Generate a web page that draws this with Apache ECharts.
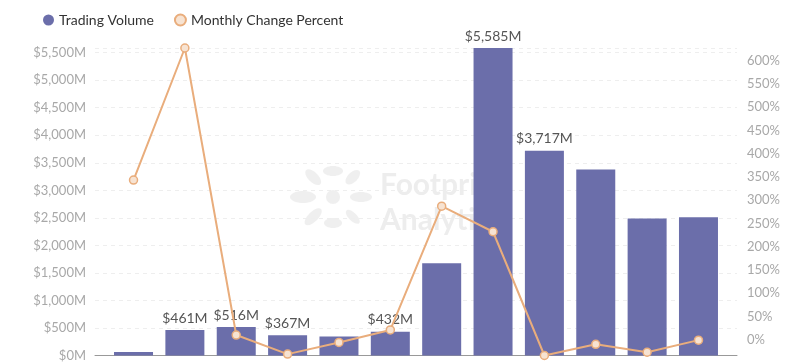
<!DOCTYPE html>
<html>
<head>
<meta charset="utf-8">
<script src="https://cdn.jsdelivr.net/npm/echarts@6/dist/echarts.min.js"></script>
<style>html,body{margin:0;padding:0;background:#fff}#c{width:800px;height:362px}</style>
</head>
<body>
<div id="c"></div>
<script>
// ---- data ----
var monthIndex = [0, 1, 2, 3, 4, 5, 6, 7, 8, 9, 10, 11];
var tradingVolume = [64, 461, 516, 367, 345, 432, 1675, 5585, 3717, 3380, 2490, 2510];
var volumeLabelShown = [false, true, true, true, false, true, false, true, true, false, false, false];
var monthlyChange = [343, 627, 10, -31, -6, 21, 287, 232, -34, -10, -27, -1];
var seriesNames = ['Trading Volume', 'Monthly Change Percent'];

var FONT = 'Lato, "Open Sans", sans-serif';
var chart = echarts.init(document.getElementById('c'), null, {renderer: 'canvas'});

function money(v) {
  return '$' + Math.round(v).toString().replace(/\B(?=(\d{3})+(?!\d))/g, ',') + 'M';
}

// decorative watermark logo petals (angle in degrees, distance, rx, ry)
var petals = [[0, 28, 11, 5], [45, 28, 9, 5], [90, 26, 5, 10], [135, 28, 10, 5], [180, 30, 13, 6],
              [225, 28, 11, 5], [270, 26, 5, 9], [315, 28, 9, 4]];
var logo = petals.map(function (p) {
  var a = p[0] * Math.PI / 180;
  return {
    type: 'ellipse', silent: true, z: 0,
    x: 333 + Math.cos(a) * p[1], y: 197 - Math.sin(a) * p[1], rotation: a,
    shape: {cx: 0, cy: 0, rx: p[2], ry: p[3]},
    style: {fill: 'rgba(225,225,225,0.55)'}
  };
});
logo.push({type: 'circle', silent: true, z: 0, shape: {cx: 333, cy: 197, r: 7}, style: {fill: 'rgba(225,225,225,0.55)'}});

chart.setOption({
  animation: false,
  textStyle: {fontFamily: FONT},
  color: ['#6b6eaa', '#eaa66c'],
  legend: {
    left: 38, top: 8,
    icon: 'circle', itemWidth: 11, itemHeight: 11, itemGap: 20,
    textStyle: {fontFamily: FONT, fontSize: 14, color: '#333'},
    data: seriesNames
  },
  graphic: logo.concat([{
    type: 'text', left: 380, top: 168, z: 0, silent: true,
    style: {text: 'Footprint\nAnalytics', fill: 'rgba(215,215,215,0.45)', font: 'bold 30px ' + FONT, lineHeight: 35}
  }]),
  grid: {left: 95, right: 63, top: 48, bottom: 5},
  xAxis: {
    type: 'value', min: -0.75, max: 11.75,
    splitLine: {show: false},
    axisTick: {show: false},
    axisLabel: {show: false},
    axisLine: {show: true, onZero: false, lineStyle: {color: '#999', width: 1}}
  },
  yAxis: [{
    type: 'value', min: 0, max: 'dataMax', minInterval: 500, maxInterval: 500,
    axisLine: {show: false}, axisTick: {show: false},
    axisLabel: {fontFamily: FONT, fontSize: 13, color: '#a8a8a8', margin: 9, showMaxLabel: false,
      formatter: function (v) { return money(v); }},
    splitLine: {show: true, lineStyle: {color: '#eeeeee', type: [4, 4]}}
  }, {
    type: 'value', min: 'dataMin', max: 'dataMax', minInterval: 50, maxInterval: 50,
    axisLine: {show: false}, axisTick: {show: false},
    axisLabel: {fontFamily: FONT, fontSize: 13, color: '#a8a8a8', margin: 10, showMinLabel: false, showMaxLabel: false,
      formatter: function (v) { return v + '%'; }},
    splitLine: {show: false}
  }],
  series: [{
    name: seriesNames[0], type: 'bar', yAxisIndex: 0, barWidth: 39,
    itemStyle: {color: '#6b6eaa'},
    label: {show: true, position: 'top', distance: 5, fontFamily: FONT, fontSize: 14, color: '#555',
      formatter: function (p) { return money(p.value[1]); }},
    data: monthIndex.map(function (i) {
      return {value: [i, tradingVolume[i]], label: {show: volumeLabelShown[i]}};
    })
  }, {
    name: seriesNames[1], type: 'line', yAxisIndex: 1, z: 3,
    symbol: 'circle', symbolSize: 8,
    itemStyle: {color: '#f7e3d2', borderColor: '#e9ad7c', borderWidth: 1.5},
    lineStyle: {color: '#e9ad7c', width: 2},
    data: monthIndex.map(function (i) { return [i, monthlyChange[i]]; })
  }]
});
</script>
</body>
</html>
